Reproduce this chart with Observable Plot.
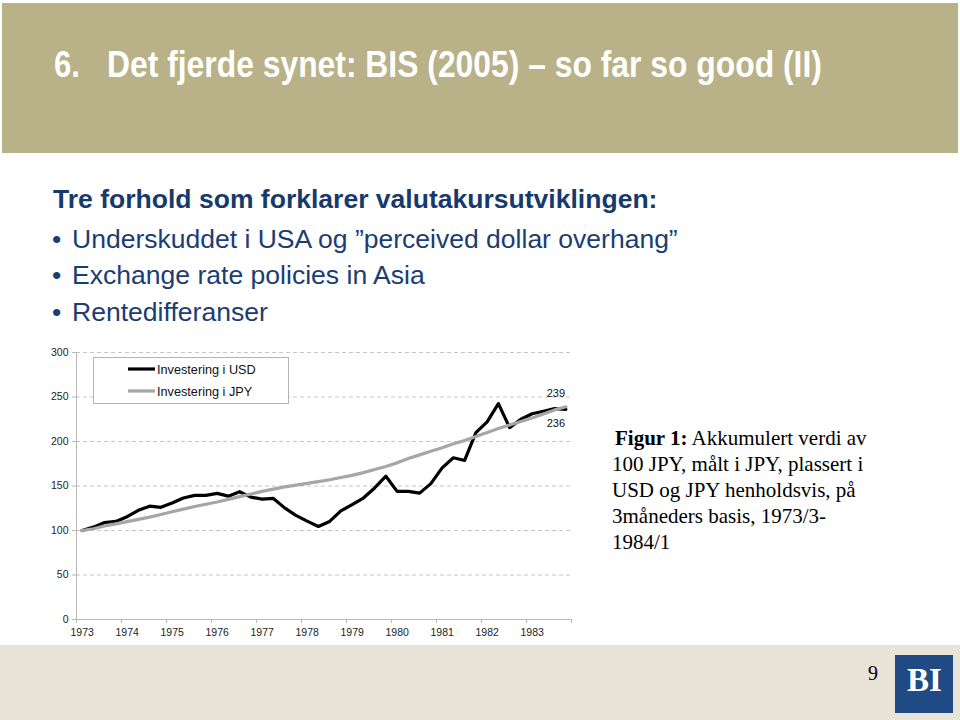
<!DOCTYPE html>
<html>
<head>
<meta charset="utf-8">
<script src="https://cdn.jsdelivr.net/npm/d3@7"></script>
<script src="https://cdn.jsdelivr.net/npm/@observablehq/plot@0.6"></script>
<style>
  html, body { margin: 0; padding: 0; background: #fff; }
  #page { position: relative; width: 960px; height: 720px; overflow: hidden; background: #fff; }
  #deco, #chart, #legend { position: absolute; left: 0; }
  #deco { top: 0; }
  #chart { top: 340px; left: 0; }
  #legend { top: 0; }
</style>
</head>
<body>
<div id="page">
<svg id="deco" width="960" height="720" xmlns="http://www.w3.org/2000/svg">
  <rect x="2" y="3" width="956" height="150" fill="#b9b187"/>
  <text id="t1" x="54" y="77" fill="#fff" font-family="'Liberation Sans',Arial,sans-serif" font-weight="bold" font-size="37">6.</text>
  <text id="t2" x="107" y="77" fill="#fff" font-family="'Liberation Sans',Arial,sans-serif" font-weight="bold" font-size="37">Det fjerde synet: BIS (2005) – so far so good (II)</text>

  <text class="fit" data-w="605" x="53" y="208" fill="#173a6c" font-family="'Liberation Sans',Arial,sans-serif" font-weight="bold" font-size="25">Tre forhold som forklarer valutakursutviklingen:</text>
  <g font-family="'Liberation Sans',Arial,sans-serif" font-size="26.5" fill="#1b3d72">
    <text x="52" y="248">•</text>
    <text class="fit" data-w="606" x="72" y="248">Underskuddet i USA og ”perceived dollar overhang”</text>
    <text x="52" y="284">•</text>
    <text class="fit" data-w="353" x="72" y="284">Exchange rate policies in Asia</text>
    <text x="52" y="321">•</text>
    <text class="fit" data-w="196" x="72" y="321">Rentedifferanser</text>
  </g>

  <g font-family="'Liberation Serif','Times New Roman',serif" font-size="21" fill="#000">
    <text x="615" y="445"><tspan font-weight="bold">Figur 1:</tspan> Akkumulert verdi av</text>
    <text x="612" y="471">100 JPY, målt i JPY, plassert i</text>
    <text x="612" y="497">USD og JPY henholdsvis, på</text>
    <text x="612" y="523">3måneders basis, 1973/3-</text>
    <text x="612" y="549">1984/1</text>
  </g>

  <rect x="0" y="645" width="960" height="75" fill="#e7e3d7"/>
  <text x="873" y="680" text-anchor="middle" font-family="'Liberation Serif','Times New Roman',serif" font-size="20" fill="#000">9</text>
  <rect x="895" y="655" width="58" height="58" fill="#1f4a83"/>
  <text x="924.5" y="691" text-anchor="middle" font-family="'Liberation Serif','Times New Roman',serif" font-weight="bold" font-size="33" fill="#fff">BI</text>
</svg>
<div id="chart"></div>
<svg id="legend" width="960" height="720" xmlns="http://www.w3.org/2000/svg" style="pointer-events:none">
  <rect x="93.5" y="357.5" width="195" height="46" fill="#fff" stroke="#b5b5b5" stroke-width="1"/>
  <line x1="128" x2="155" y1="369" y2="369" stroke="#000" stroke-width="3.2"/>
  <line x1="128" x2="155" y1="391" y2="391" stroke="#a6a6a6" stroke-width="3.2"/>
  <g font-family="'Liberation Sans',Arial,sans-serif" font-size="12.7" fill="#111">
    <text x="157" y="373.5">Investering i USD</text>
    <text x="157" y="395.5">Investering i JPY</text>
  </g>
</svg>
</div>
<script>
// Quarterly observations, 1973/3 – 1984/1 (index 0..43)
const yearLabels = ["1973","1974","1975","1976","1977","1978","1979","1980","1981","1982","1983"];
const usd = [100, 103.8, 109, 110.2, 115.5, 122.7, 127.3, 126, 131, 136.5, 139.4, 139.4,
             141.7, 138.6, 143.6, 137.5, 135.2, 136, 125.4, 117, 110.5, 104.5, 110.2, 122,
             129, 136.5, 147.8, 161, 144, 144, 142, 152.7, 170.4, 181.7, 178.7, 210,
             222, 242.5, 215.6, 225, 231.2, 234, 237, 236];
const jpy = [100, 102, 105, 107.5, 110, 112.5, 115, 118, 121, 124, 127, 129.5,
             132, 135, 138, 141, 144, 146.5, 149, 151, 153, 155, 157, 159.5,
             162, 165, 168.5, 172, 176, 181, 185, 189, 193, 197.5, 201, 205.5,
             210, 214.5, 218.5, 222.5, 226.5, 231, 235.5, 239];
const yTicks = [0, 50, 100, 150, 200, 250, 300];
const endLabelJPY = 239;
const endLabelUSD = 236;

// horizontal fitting of slide texts to the reference widths
function fitText(el, w) {
  const nat = el.getComputedTextLength();
  const x = +el.getAttribute("x");
  const s = w / nat;
  el.setAttribute("transform", `translate(${x},0) scale(${s},1) translate(${-x},0)`);
}
fitText(document.getElementById("t1"), 26);
fitText(document.getElementById("t2"), 715);
document.querySelectorAll("text.fit").forEach(el => fitText(el, +el.dataset.w));

const usdData = usd.map((v, i) => ({i, v}));
const jpyData = jpy.map((v, i) => ({i, v}));
const n = usd.length;
const labelIdx = yearLabels.map((_, k) => k * 4);
const boundaries = d3.range(0, n / 4 + 1).map(k => k * 4 - 0.5);

const chart = Plot.plot({
  width: 600,
  height: 310,
  marginLeft: 76,
  marginRight: 29,
  marginTop: 12,
  marginBottom: 31,
  style: {fontFamily: "'Liberation Sans', Arial, sans-serif", background: "transparent", color: "#222"},
  x: {type: "linear", domain: [-0.5, n - 0.5]},
  y: {domain: [0, 300]},
  marks: [
    Plot.ruleY(yTicks.filter(t => t > 0), {stroke: "#c6c6c6", strokeWidth: 1, strokeDasharray: "4,3"}),
    Plot.ruleX([-0.5], {stroke: "#b8b8b8", strokeWidth: 1}),
    Plot.ruleY([0], {stroke: "#b8b8b8", strokeWidth: 1}),
    Plot.axisY({ticks: yTicks, tickSize: 4, tickPadding: 4, stroke: "#b8b8b8", fontSize: 10.5, label: null}),
    Plot.axisX({ticks: boundaries, tickSize: 4, tickFormat: () => "", stroke: "#b8b8b8", label: null}),
    Plot.axisX({ticks: labelIdx, tickSize: 0, tickPadding: 9, tickFormat: i => yearLabels[Math.round(i / 4)], fontSize: 10.5, label: null}),
    Plot.line(usdData, {x: "i", y: "v", stroke: "#000", strokeWidth: 3.2}),
    Plot.line(jpyData, {x: "i", y: "v", stroke: "#a6a6a6", strokeWidth: 3.2}),
    Plot.text([{i: n - 1, v: endLabelJPY}], {x: "i", y: "v", text: d => String(d.v), dx: -10, dy: -13, fontSize: 11, fill: "#111"}),
    Plot.text([{i: n - 1, v: endLabelUSD}], {x: "i", y: "v", text: d => String(d.v), dx: -10, dy: 14, fontSize: 11, fill: "#111"})
  ]
});
document.getElementById("chart").appendChild(chart);
</script>
</body>
</html>
